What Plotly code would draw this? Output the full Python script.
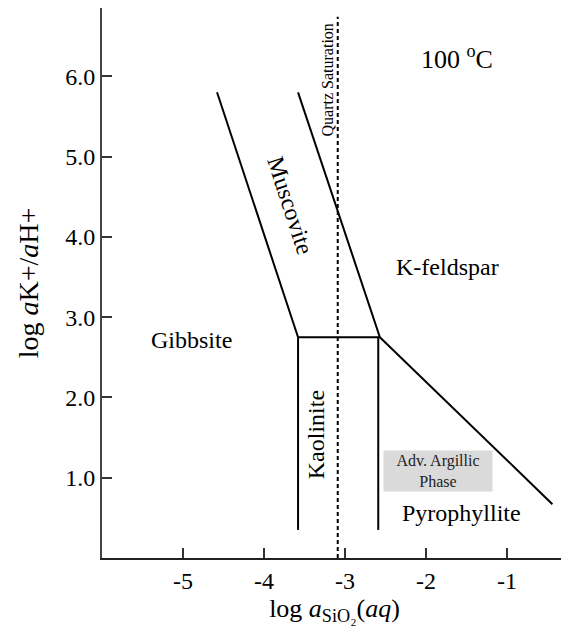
import plotly.graph_objects as go

# Phase boundaries (log aSiO2, log aK+/aH+)
musc_gibb_x = [-4.58, -3.58]
musc_gibb_y = [5.80, 2.75]
kfs_musc_x = [-3.58, -2.57]
kfs_musc_y = [5.80, 2.75]
musc_kaol_x = [-3.58, -2.57]
musc_kaol_y = [2.75, 2.75]
gibb_kaol_x = [-3.58, -3.58]
gibb_kaol_y = [2.75, 0.35]
kaol_pyro_x = [-2.59, -2.59]
kaol_pyro_y = [2.75, 0.35]
kfs_pyro_x = [-2.57, -0.44]
kfs_pyro_y = [2.75, 0.67]
quartz_x = [-3.09, -3.09]
quartz_y = [0.0, 6.74]

x_ticks = [-5, -4, -3, -2, -1]
x_tick_labels = ["-5", "-4", "-3", "-2", "-1"]
y_ticks = [1, 2, 3, 4, 5, 6]
y_tick_labels = ["1.0", "2.0", "3.0", "4.0", "5.0", "6.0"]

labels = ["Gibbsite", "K-feldspar", "Pyrophyllite"]
labels_x = [-4.89, -1.73, -1.56]
labels_y = [2.71, 3.62, 0.56]

FONT = "Liberation Serif"

fig = go.Figure()
solid = [
    (musc_gibb_x, musc_gibb_y), (kfs_musc_x, kfs_musc_y), (musc_kaol_x, musc_kaol_y),
    (gibb_kaol_x, gibb_kaol_y), (kaol_pyro_x, kaol_pyro_y), (kfs_pyro_x, kfs_pyro_y),
]
for xs, ys in solid:
    fig.add_trace(go.Scatter(x=xs, y=ys, mode="lines", line=dict(color="black", width=2),
                             showlegend=False, hoverinfo="skip"))
fig.add_trace(go.Scatter(x=quartz_x, y=quartz_y, mode="lines",
                         line=dict(color="black", width=2, dash="4px,3px"),
                         showlegend=False, hoverinfo="skip"))

for t, x, y in zip(labels, labels_x, labels_y):
    fig.add_annotation(x=x, y=y, text=t, showarrow=False, font=dict(family=FONT, size=24, color="black"))

fig.add_annotation(x=-3.67, y=4.39, text="Muscovite", textangle=72, showarrow=False,
                   font=dict(family=FONT, size=24, color="black"))
fig.add_annotation(x=-3.36, y=1.54, text="Kaolinite", textangle=-90, showarrow=False,
                   font=dict(family=FONT, size=24, color="black"))
fig.add_annotation(x=-3.22, y=5.95, text="Quartz Saturation", textangle=-90, showarrow=False,
                   font=dict(family=FONT, size=16, color="black"))
fig.add_annotation(x=-1.62, y=6.23, text="100 <sup>o</sup>C", showarrow=False,
                   font=dict(family=FONT, size=26, color="black"))
fig.add_annotation(x=-1.85, y=1.08, text="Adv. Argillic<br>Phase", showarrow=False,
                   font=dict(family=FONT, size=16, color="#222"),
                   bgcolor="#dadada", width=108, height=40, borderpad=0)

fig.update_layout(
    width=561, height=624,
    margin=dict(l=94, r=2, t=0, b=74),
    plot_bgcolor="white", paper_bgcolor="white",
    font=dict(family=FONT, color="black"),
    xaxis=dict(range=[-6, -0.26], tickvals=x_ticks, ticktext=x_tick_labels, ticks="inside", ticklen=10,
               tickwidth=1.5, tickcolor="#333", showline=True, linecolor="#222", linewidth=2,
               showgrid=False, zeroline=False, tickfont=dict(size=24, family=FONT), automargin=False,
               title=dict(text="log <i>a</i><sub>SiO₂</sub>(<i>aq</i>)", font=dict(size=26, family=FONT), standoff=4)),
    yaxis=dict(range=[0, 6.85], tickvals=y_ticks, ticktext=y_tick_labels, ticks="inside", ticklen=10,
               tickwidth=1.5, tickcolor="#333", showline=True, linecolor="#444", linewidth=2,
               showgrid=False, zeroline=False, tickfont=dict(size=24, family=FONT), automargin=False,
               title=dict(text="log <i>a</i>K+/<i>a</i>H+", font=dict(size=28, family=FONT), standoff=18)),
)

fig.write_html("out.html")
